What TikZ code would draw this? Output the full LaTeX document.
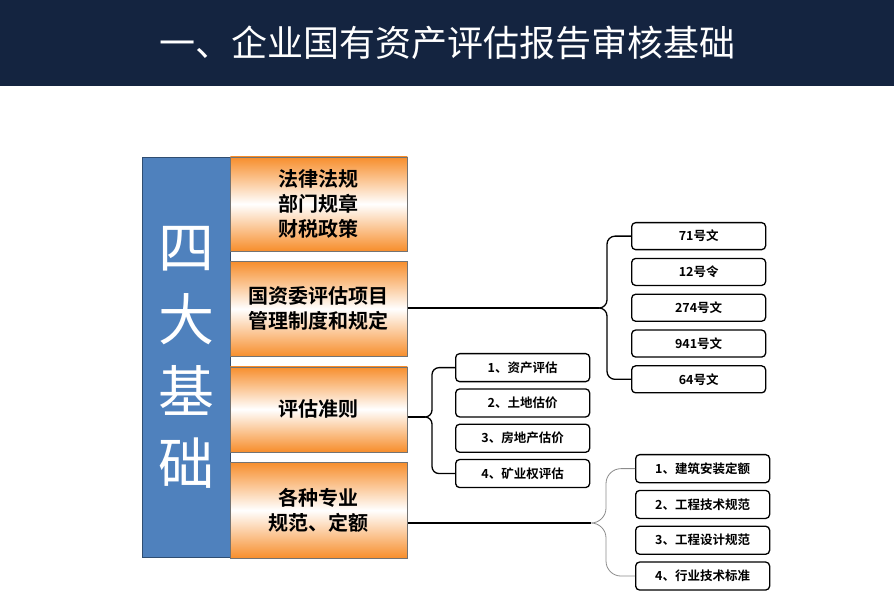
\documentclass[tikz,border=0pt]{standalone}
\usepackage{fontspec}
\setmainfont{Noto Sans CJK SC}[BoldFont={Noto Sans CJK SC Bold}]
\usetikzlibrary{positioning,calc}
\definecolor{Night}{RGB}{20,36,64}
\definecolor{Steel}{RGB}{79,129,189}
\definecolor{Amber}{RGB}{247,142,44}
% curly bracket: style, half width, tip, top node, bottom node
\newcommand\linkbrace[5]{%
 \draw[br,#1] (#4.west) -- ($(#4.west -| #3)+(2*#2,0)$) to[out=180,in=90] ($(#4.west -| #3)+(#2,-#2)$)
  -- ($(#3)+(#2,#2)$) to[out=-90,in=0] (#3) to[out=0,in=90] ($(#3)+(#2,-#2)$)
  -- ($(#5.west -| #3)+(#2,#2)$) to[out=-90,in=180] ($(#5.west -| #3)+(2*#2,0)$) -- (#5.west);}

\begin{document}
\begin{tikzpicture}[x=1pt,y=1pt,node distance=10pt,
 ob/.style={draw=black!55,top color=Amber,bottom color=Amber,middle color=white,minimum width=177pt,inner sep=0pt,align=center,font=\fontsize{20}{25}\selectfont\bfseries},
 lb/.style={draw,line width=1.3pt,rounded corners=4pt,fill=white,minimum width=134pt,inner sep=0pt,font=\fontsize{12.5}{14}\selectfont\bfseries},
 ln/.style={line width=1.6pt},
 br/.style={line width=1.3pt}]
\useasboundingbox (0,0) rectangle (894,600);
\node[fill=Night,minimum width=894pt,minimum height=86pt,inner sep=0pt,text=white,font=\fontsize{36}{40}\selectfont] (hd) at (447,557) {一、企业国有资产评估报告审核基础};

\node[draw=Steel!60!black,fill=Steel,minimum width=88pt,minimum height=400pt,inner sep=0pt,text=white,align=center,font=\fontsize{56}{72}\selectfont] (base) at (186,243) {四\\大\\基\\础};
\node[ob,minimum height=94pt,anchor=north west] (o1) at (base.north east) {法律法规\\部门规章\\财税政策};
\node[ob,minimum height=95pt,below=of o1] (o2) {国资委评估项目\\管理制度和规定};
\node[ob,minimum height=85pt,below=of o2] (o3) {评估准则};
\node[ob,minimum height=96pt,below=of o3] (o4) {各种专业\\规范、定额};

% 国资委文件
\node[lb,minimum height=27pt,anchor=north west] (g1a) at (631,378) {71号文};
\node[lb,minimum height=27pt,below=7.5pt of g1a] (g1b) {12号令};
\node[lb,minimum height=27pt,below=7.5pt of g1b] (g1c) {274号文};
\node[lb,minimum height=27pt,below=7.5pt of g1c] (g1d) {941号文};
\node[lb,minimum height=27pt,below=7.5pt of g1d] (g1e) {64号文};
% 评估准则
\node[lb,minimum height=28pt,anchor=north west] (g2a) at (455,247) {1、资产评估};
\node[lb,minimum height=28pt,below=6pt of g2a] (g2b) {2、土地估价};
\node[lb,minimum height=28pt,below=6pt of g2b] (g2c) {3、房地产估价};
\node[lb,minimum height=28pt,below=6pt of g2c] (g2d) {4、矿业权评估};
% 专业规范
\node[lb,minimum height=28pt,anchor=north west] (g3a) at (635,146) {1、建筑安装定额};
\node[lb,minimum height=28pt,below=6.5pt of g3a] (g3b) {2、工程技术规范};
\node[lb,minimum height=28pt,below=6.5pt of g3b] (g3c) {3、工程设计规范};
\node[lb,minimum height=28pt,below=6.5pt of g3c] (g3d) {4、行业技术标准};

\coordinate (k1) at (599,292);
\coordinate (k2) at (425,183);
\coordinate (k3) at (591,77);
\draw[ln] (o2.east |- k1) -- (k1);
\draw[ln] (o3.east |- k2) -- (k2);
\draw[ln] (o4.east |- k3) -- (k3);
\linkbrace{}{8}{k1}{g1a}{g1e}
\linkbrace{}{7}{k2}{g2a}{g2d}
\linkbrace{draw=black!45,line width=.8pt}{15}{k3}{g3a}{g3d}
\end{tikzpicture}
\end{document}
